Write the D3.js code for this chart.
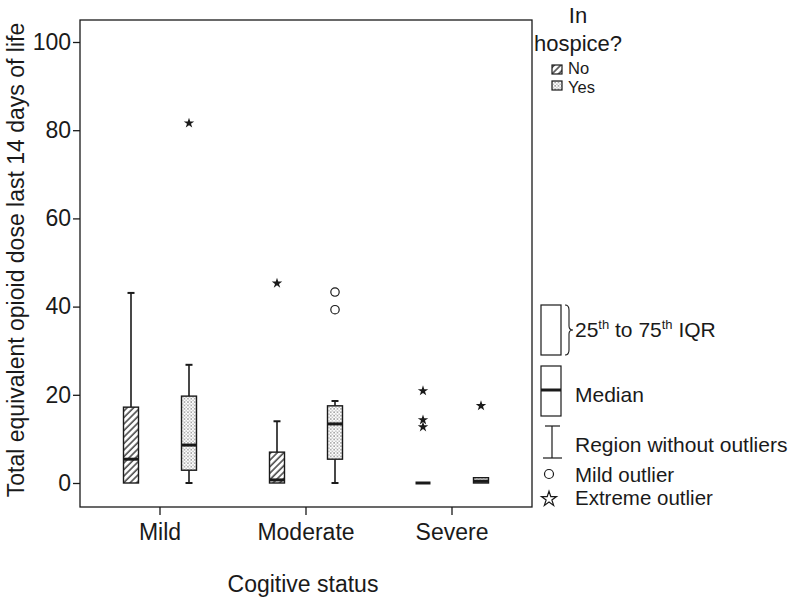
<!DOCTYPE html>
<html><head><meta charset="utf-8">
<script src="https://cdn.jsdelivr.net/npm/d3@7"></script>
<style>body{margin:0;background:#fff}svg{display:block}text{font-family:"Liberation Sans",Arial,sans-serif;fill:#1a1a1a}</style>
</head><body>
<script>
const categories = ["Mild", "Moderate", "Severe"];
const groups = ["No", "Yes"];
// per category, per group: [whiskerLow, q1, median, q3, whiskerHigh]
const statsNo  = [[0, 0, 5.4, 17.2, 43.1], [0, 0, 0.7, 7.0, 14.0], [0, 0, 0, 0, 0]];
const statsYes = [[0, 2.9, 8.6, 19.7, 26.8], [0, 5.4, 13.4, 17.5, 18.6], [0, 0, 0.4, 1.2, 1.2]];
const mildOutliersNo  = [[], [], []];
const mildOutliersYes = [[], [43.3, 39.3], []];
const extremeOutliersNo  = [[], [45.3], [20.9, 14.3, 12.7]];
const extremeOutliersYes = [[81.6], [], [17.5]];
const yTicks = [0, 20, 40, 60, 80, 100];

const W = 800, H = 605;
const svg = d3.select("body").append("svg").attr("width", W).attr("height", H);
const defs = svg.append("defs");
const hatch = defs.append("pattern").attr("id", "hatch").attr("patternUnits", "userSpaceOnUse")
  .attr("width", 4.6).attr("height", 4.6).attr("patternTransform", "rotate(45)");
hatch.append("rect").attr("width", 4.6).attr("height", 4.6).attr("fill", "#fff");
hatch.append("line").attr("x1", 1).attr("y1", 0).attr("x2", 1).attr("y2", 4.6).attr("stroke", "#222").attr("stroke-width", 1.3);
const dots = defs.append("pattern").attr("id", "dots").attr("patternUnits", "userSpaceOnUse")
  .attr("width", 3.4).attr("height", 3.4);
dots.append("rect").attr("width", 3.4).attr("height", 3.4).attr("fill", "#fff");
dots.append("circle").attr("cx", 0.9).attr("cy", 0.9).attr("r", 0.65).attr("fill", "#333");
dots.append("circle").attr("cx", 2.6).attr("cy", 2.6).attr("r", 0.55).attr("fill", "#555");

const frame = {left: 80, right: 532, top: 20, bottom: 507};
const y = d3.scaleLinear().domain([0, 100]).range([483, 42]);
const x = d3.scaleBand().domain(categories).range([87, 525]);
const xg = d3.scalePoint().domain(groups).range([-29, 29]);
const fills = {No: "url(#hatch)", Yes: "url(#dots)"};
const boxW = 15, capW = 7;

// frame
svg.append("rect").attr("x", frame.left).attr("y", frame.top)
  .attr("width", frame.right - frame.left).attr("height", frame.bottom - frame.top)
  .attr("fill", "none").attr("stroke", "#1a1a1a").attr("stroke-width", 1.3);

// axes
const yAxis = svg.append("g").attr("transform", `translate(${frame.left},0)`)
  .call(d3.axisLeft(y).tickValues(yTicks).tickSize(7).tickPadding(2));
const xAxis = svg.append("g").attr("transform", `translate(0,${frame.bottom})`)
  .call(d3.axisBottom(x).tickSize(8).tickPadding(9));
[yAxis, xAxis].forEach(a => {
  a.select(".domain").remove();
  a.selectAll("line").attr("stroke", "#1a1a1a").attr("stroke-width", 1.3);
  a.selectAll("text").attr("font-size", 23).attr("font-family", "Liberation Sans, Arial, sans-serif").attr("fill", "#1a1a1a");
});

svg.append("text").attr("transform", "translate(24,260) rotate(-90)").attr("text-anchor", "middle")
  .attr("font-size", 23).text("Total equivalent opioid dose last 14 days of life");
svg.append("text").attr("x", 303).attr("y", 592).attr("text-anchor", "middle")
  .attr("font-size", 23).text("Cogitive status");

// boxes
const starFill = d3.symbol().type(d3.symbolStar).size(34);
groups.forEach(g => {
  const st = g === "No" ? statsNo : statsYes;
  const mo = g === "No" ? mildOutliersNo : mildOutliersYes;
  const eo = g === "No" ? extremeOutliersNo : extremeOutliersYes;
  categories.forEach((c, i) => {
    const cx = x(c) + x.bandwidth() / 2 + xg(g);
    const [lo, q1, med, q3, hi] = st[i];
    const gg = svg.append("g");
    if (hi > q3) {
      gg.append("line").attr("x1", cx).attr("x2", cx).attr("y1", y(q3)).attr("y2", y(hi)).attr("stroke", "#1a1a1a").attr("stroke-width", 1.6);
      gg.append("line").attr("x1", cx - capW / 2).attr("x2", cx + capW / 2).attr("y1", y(hi)).attr("y2", y(hi)).attr("stroke", "#1a1a1a").attr("stroke-width", 2);
    }
    if (q1 > lo) {
      gg.append("line").attr("x1", cx).attr("x2", cx).attr("y1", y(q1)).attr("y2", y(lo)).attr("stroke", "#1a1a1a").attr("stroke-width", 1.6);
      gg.append("line").attr("x1", cx - capW / 2).attr("x2", cx + capW / 2).attr("y1", y(lo)).attr("y2", y(lo)).attr("stroke", "#1a1a1a").attr("stroke-width", 2);
    }
    if (q3 > q1) {
      gg.append("rect").attr("x", cx - boxW / 2).attr("y", y(q3)).attr("width", boxW).attr("height", y(q1) - y(q3))
        .attr("fill", fills[g]).attr("stroke", "#1a1a1a").attr("stroke-width", 1.4);
    }
    gg.append("line").attr("x1", cx - boxW / 2).attr("x2", cx + boxW / 2).attr("y1", y(med)).attr("y2", y(med))
      .attr("stroke", "#1a1a1a").attr("stroke-width", 3);
    mo[i].forEach(v => gg.append("circle").attr("cx", cx).attr("cy", y(v)).attr("r", 4.2)
      .attr("fill", "none").attr("stroke", "#1a1a1a").attr("stroke-width", 1.2));
    eo[i].forEach(v => gg.append("path").attr("d", starFill).attr("transform", `translate(${cx},${y(v)})`).attr("fill", "#1a1a1a"));
  });
});

// legend top
svg.append("text").attr("x", 578).attr("y", 23).attr("text-anchor", "middle").attr("font-size", 22).text("In");
svg.append("text").attr("x", 578).attr("y", 51).attr("text-anchor", "middle").attr("font-size", 22).text("hospice?");
groups.forEach((g, i) => {
  svg.append("rect").attr("x", 552).attr("y", 65 + i * 16).attr("width", 10).attr("height", 9)
    .attr("fill", fills[g]).attr("stroke", "#1a1a1a").attr("stroke-width", 1.2);
  svg.append("text").attr("x", 568).attr("y", 74 + i * 19).attr("font-size", 16.5).text(g);
});

// legend bottom
const L = svg.append("g");
L.append("rect").attr("x", 541).attr("y", 305).attr("width", 20).attr("height", 50).attr("fill", "none").attr("stroke", "#1a1a1a").attr("stroke-width", 1.2);
L.append("path").attr("d", "M565,305 Q569,305 569,310 L569,326 Q569,330 573,330 Q569,330 569,334 L569,350 Q569,355 565,355")
  .attr("fill", "none").attr("stroke", "#1a1a1a").attr("stroke-width", 1.1);
const iqr = L.append("text").attr("x", 575).attr("y", 337).attr("font-size", 21);
iqr.append("tspan").text("25");
iqr.append("tspan").attr("font-size", 13).attr("dy", -8).text("th");
iqr.append("tspan").attr("dy", 8).text(" to 75");
iqr.append("tspan").attr("font-size", 13).attr("dy", -8).text("th");
iqr.append("tspan").attr("dy", 8).text(" IQR");
L.append("rect").attr("x", 541).attr("y", 366).attr("width", 20).attr("height", 50).attr("fill", "none").attr("stroke", "#1a1a1a").attr("stroke-width", 1.2);
L.append("line").attr("x1", 541).attr("x2", 561).attr("y1", 390).attr("y2", 390).attr("stroke", "#1a1a1a").attr("stroke-width", 3);
L.append("text").attr("x", 575).attr("y", 402).attr("font-size", 21).text("Median");
L.append("line").attr("x1", 552).attr("x2", 552).attr("y1", 426).attr("y2", 458).attr("stroke", "#1a1a1a").attr("stroke-width", 1.2);
L.append("line").attr("x1", 545).attr("x2", 560).attr("y1", 426).attr("y2", 426).attr("stroke", "#1a1a1a").attr("stroke-width", 1.2);
L.append("line").attr("x1", 543).attr("x2", 562).attr("y1", 458).attr("y2", 458).attr("stroke", "#1a1a1a").attr("stroke-width", 1.2);
L.append("text").attr("x", 575).attr("y", 452).attr("font-size", 21).text("Region without outliers");
L.append("circle").attr("cx", 549).attr("cy", 474).attr("r", 4.5).attr("fill", "none").attr("stroke", "#1a1a1a").attr("stroke-width", 1.2);
L.append("text").attr("x", 575).attr("y", 482).attr("font-size", 20.5).text("Mild outlier");
L.append("path").attr("d", d3.symbol().type(d3.symbolStar).size(70)).attr("transform", "translate(549,499)")
  .attr("fill", "none").attr("stroke", "#1a1a1a").attr("stroke-width", 1.2);
L.append("text").attr("x", 575).attr("y", 505).attr("font-size", 20.5).text("Extreme outlier");
</script>
</body></html>
